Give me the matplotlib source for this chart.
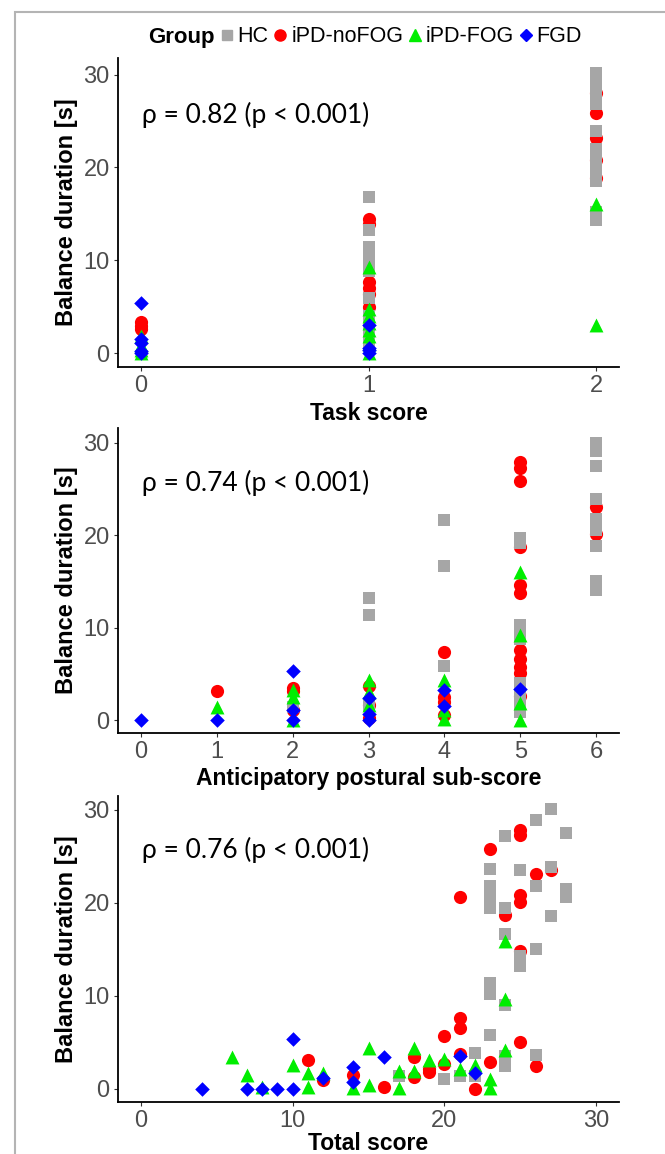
import numpy as np
import matplotlib
matplotlib.use('agg')
import matplotlib.pyplot as plt
from matplotlib.patches import Rectangle
from matplotlib.lines import Line2D
import matplotlib.transforms as mtransforms

plt.rcParams['font.family'] = ['Liberation Sans', 'DejaVu Sans']

groups = ['HC', 'iPD-noFOG', 'iPD-FOG', 'FGD']
colors = ['#a6a6a6', '#ff0000', '#00ee00', '#0000ff']
markers = ['s', 'o', '^', 'D']
sizes = [85, 90, 100, 55]
draw_order = [1, 0, 2, 3]   # red under grey, then green, blue on top

# panel 1: task score -> balance duration [s]
task_hc = {1: [16.8, 13.3, 11.4, 10.5, 9.8, 9.2, 8.8, 5.9, 4.0, 3.5, 3.0, 2.5, 2.0, 1.5, 1.2],
           2: [30.2, 28.9, 27.8, 26.8, 23.9, 22.0, 21.0, 20.0, 19.0, 18.5, 15.2, 14.3]}
task_nofog = {0: [3.3, 2.9, 2.6], 1: [14.5, 13.9, 7.7, 7.0, 6.4, 5.0],
              2: [28.0, 25.9, 23.2, 20.8, 18.9]}
task_fog = {0: [1.8, 0.9, 0.3, 0.0], 1: [9.3, 4.8, 4.0, 3.2, 2.5, 1.8, 1.0, 0.0],
            2: [16.1, 3.0]}
task_fgd = {0: [5.4, 1.5, 1.1, 0.2, 0.0], 1: [3.0, 0.6, 0.3, 0.0]}

# panel 2: anticipatory postural sub-score
apa_hc = {2: [1.4], 3: [13.2, 11.4, 1.5], 4: [21.7, 16.7, 5.8],
          5: [19.7, 19.2, 10.3, 9.5, 8.8, 4.0, 3.2, 2.4, 1.6, 0.9],
          6: [30.0, 29.1, 27.5, 23.9, 21.8, 21.2, 20.6, 18.8, 15.0, 14.1]}
apa_nofog = {1: [3.1], 2: [3.5, 3.1, 1.1], 3: [3.7, 1.6, 0.2], 4: [7.4, 2.5, 2.0, 0.5],
             5: [27.9, 27.3, 25.9, 18.7, 14.6, 13.7, 7.6, 6.6, 5.7, 5.1, 2.6],
             6: [23.0, 20.1]}
apa_fog = {1: [1.4], 2: [3.2, 2.5, 0.0], 3: [4.3, 3.0, 1.6], 4: [4.3, 1.1, 0.1],
           5: [16.0, 9.2, 1.8, 0.0]}
apa_fgd = {0: [0.0], 1: [0.0], 2: [5.3, 1.1, 0.0], 3: [2.4, 0.7, 0.0], 4: [3.3, 1.5], 5: [3.4]}

# panel 3: total score (score, duration)
tot_hc = [(17, 1.4), (20, 1.1), (21, 1.4), (22, 3.9), (22, 1.4), (23, 23.7), (23, 21.8),
          (23, 21.0), (23, 20.2), (23, 19.5), (23, 11.4), (23, 10.2), (23, 5.8), (24, 27.2),
          (24, 19.5), (24, 16.7), (24, 9.0), (24, 3.5), (24, 2.5), (25, 23.5), (25, 14.3),
          (25, 13.2), (26, 28.9), (26, 21.8), (26, 15.1), (26, 3.7), (27, 30.1), (27, 23.9),
          (27, 18.6), (28, 27.5), (28, 21.5), (28, 20.6)]
tot_nofog = [(11, 3.1), (12, 1.0), (14, 1.5), (16, 0.25), (18, 3.4), (18, 1.25), (19, 2.1),
             (19, 1.8), (20, 5.7), (20, 2.7), (21, 20.6), (21, 7.6), (21, 6.6), (21, 3.8),
             (22, 0.0), (23, 25.8), (23, 2.9), (24, 18.7), (25, 27.8), (25, 27.3), (25, 20.9),
             (25, 20.1), (25, 14.8), (25, 5.1), (26, 23.1), (26, 2.5), (27, 23.5)]
tot_fog = [(6, 3.4), (7, 1.5), (8, 0.25), (10, 2.6), (11, 1.7), (11, 0.25), (12, 1.7),
           (14, 0.1), (15, 4.4), (15, 0.4), (17, 1.9), (17, 0.1), (18, 4.4), (18, 1.9),
           (19, 3.1), (20, 3.2), (21, 2.2), (22, 2.6), (23, 1.1), (23, 0.1), (24, 15.9),
           (24, 9.7), (24, 4.2)]
tot_fgd = [(4, 0), (7, 0), (8, 0), (9, 0), (10, 0), (10, 5.4), (12, 1.2), (14, 2.4),
           (14, 0.7), (16, 3.4), (21, 3.5), (22, 1.7)]

rho_text = ['\u03c1 = 0.82 (p < 0.001)', '\u03c1 = 0.74 (p < 0.001)', '\u03c1 = 0.76 (p < 0.001)']
xlabels = ['Task score', 'Anticipatory postural sub-score', 'Total score']


def dict_to_xy(d):
    xs, ys = [], []
    for k, v in d.items():
        xs += [k] * len(v)
        ys += v
    return xs, ys


def pairs_to_xy(p):
    return [a for a, b in p], [b for a, b in p]


panels = [
    [dict_to_xy(task_hc), dict_to_xy(task_nofog), dict_to_xy(task_fog), dict_to_xy(task_fgd)],
    [dict_to_xy(apa_hc), dict_to_xy(apa_nofog), dict_to_xy(apa_fog), dict_to_xy(apa_fgd)],
    [pairs_to_xy(tot_hc), pairs_to_xy(tot_nofog), pairs_to_xy(tot_fog), pairs_to_xy(tot_fgd)],
]
xlims = [(-0.1, 2.1), (-0.3, 6.3), (-1.5, 31.5)]
xticks = [[0, 1, 2], [0, 1, 2, 3, 4, 5, 6], [0, 10, 20, 30]]
ylims = [(-1.5, 31.8), (-1.4, 31.6), (-1.4, 31.5)]
xpads = [3, 3, 0]
W, H = 665, 1154
ax_px = [(58, 367), (428, 733), (796, 1102)]   # top, bottom in pixels

fig = plt.figure(figsize=(W / 100, H / 100), dpi=100)

# grey frame of the original figure
fig.patches.append(Rectangle((15 / W, -0.1), 1.2, 1.1 - 12 / H, transform=fig.transFigure,
                             fill=False, edgecolor='#b4b4b4', lw=1.5))

for i in range(3):
    top, bot = ax_px[i]
    ax = fig.add_axes([118 / W, 1 - bot / H, 501 / W, (bot - top) / H])
    for g in draw_order:
        xs, ys = panels[i][g]
        ax.scatter(xs, ys, marker=markers[g], s=sizes[g], c=colors[g], linewidths=0,
                   zorder=3 + draw_order.index(g))
    ax.set_xlim(*xlims[i])
    ax.set_ylim(*ylims[i])
    ax.set_xticks(xticks[i])
    ax.set_yticks([0, 10, 20, 30])
    for s in ['top', 'right']:
        ax.spines[s].set_visible(False)
    for s in ['left', 'bottom']:
        ax.spines[s].set_linewidth(1.3)
        ax.spines[s].set_color('black')
    ax.tick_params(direction='out', length=3, width=0.8, color='#333333',
                   labelsize=17, labelcolor='#4d4d4d', pad=3)
    ax.set_xlabel(xlabels[i], fontsize=16.5, fontweight='bold', labelpad=xpads[i])
    ax.set_ylabel('Balance duration [s]', fontsize=17, fontweight='bold', labelpad=4)
    trans = mtransforms.blended_transform_factory(ax.transAxes, ax.transData)
    ax.text(0.047, 25.7, rho_text[i], transform=trans, fontsize=19, va='center', ha='left',
            family=['Lato', 'DejaVu Sans'])

# legend on top
fig.text(148 / W, 1 - 37 / H, 'Group', fontsize=16, fontweight='bold', va='center', ha='left')
handles = [Line2D([], [], ls='none', marker=markers[g], color=colors[g],
                  markersize=[7, 8, 8, 6][g]) for g in range(4)]
fig.legend(handles, groups, loc='center left', bbox_to_anchor=(216 / W, 1 - 37 / H),
           ncol=4, frameon=False, fontsize=15.5, handletextpad=0.0, columnspacing=0.05,
           handlelength=1.0, borderpad=0, borderaxespad=0)

plt.savefig('out.png', dpi=100)
